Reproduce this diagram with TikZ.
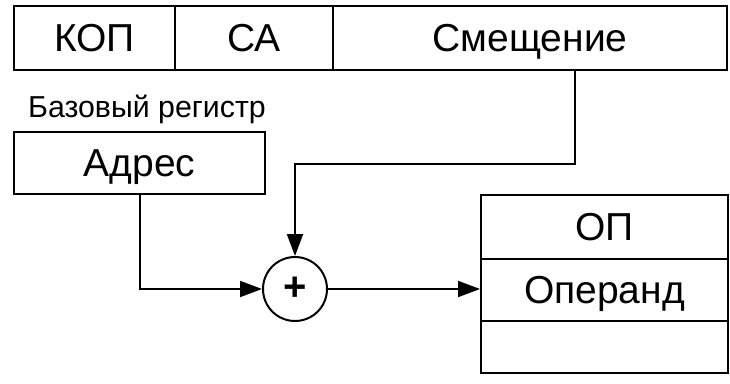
\documentclass[tikz,border=0pt]{standalone}
\usepackage{fontspec}
\setmainfont{Liberation Sans}
\usetikzlibrary{arrows.meta}
\begin{document}
\begin{tikzpicture}[x=1pt,y=-1pt,
  cell/.style={draw,line width=2pt,inner sep=0pt,text height=27.9pt,text depth=0pt,font=\fontsize{39}{46}\selectfont},
  arr/.style={line width=2pt,-{Triangle[length=22pt,width=16pt]}},
  lbl/.style={inner sep=0pt,font=\fontsize{30.3}{36}\selectfont}]
\useasboundingbox (0,0) rectangle (730,383);
\node[cell,minimum width=161pt,minimum height=64pt] (kop) at (94.5,37.5) {КОП};
\node[cell,minimum width=158pt,minimum height=64pt] (sa) at (254,37.5) {СА};
\node[cell,minimum width=394pt,minimum height=64pt] (smesh) at (530,37.5) {Смещение};
\node[lbl,anchor=base west] (baz) at (28,117) {Базовый регистр};
\node[cell,minimum width=251pt,minimum height=62pt] (adres) at (139.5,163) {Адрес};
\node[draw,circle,line width=2pt,minimum size=64pt,inner sep=0pt,font=\fontsize{40}{46}\selectfont\bfseries] (plus) at (295,289) {+};
\node[cell,minimum width=247pt,minimum height=64pt] (op) at (604.5,227) {ОП};
\node[cell,minimum width=247pt,minimum height=62pt] (operand) at (604.5,290) {Операнд};
\node[cell,minimum width=247pt,minimum height=52pt] (empty) at (604.5,347) {};
\draw[arr] ([xshift=45pt]smesh.south) -- ++(0,93) -| (plus.north);
\draw[arr] (adres.south) |- (plus.west);
\draw[arr] (plus.east) -- (plus.east -| operand.west);
\end{tikzpicture}
\end{document}
